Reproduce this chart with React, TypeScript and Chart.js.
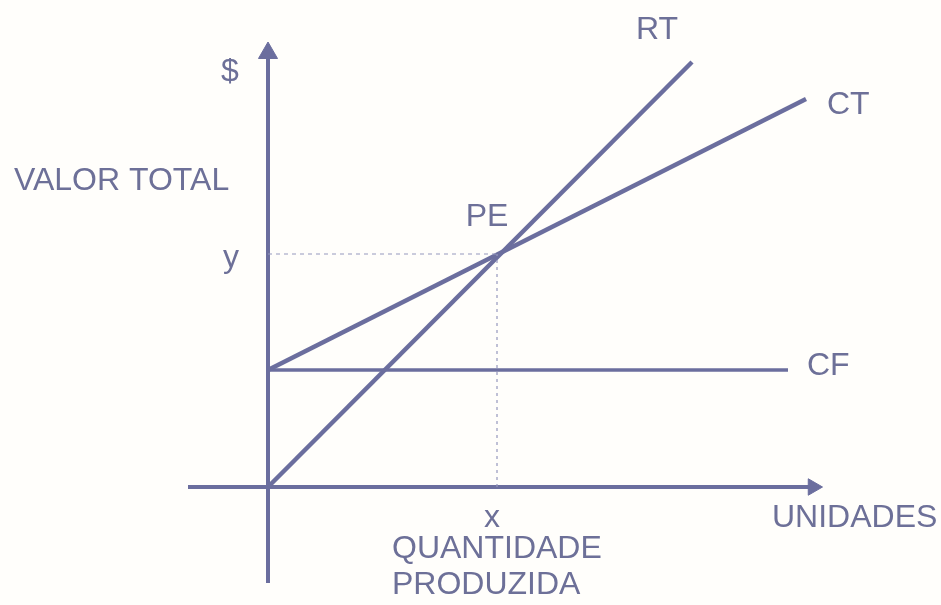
import React, { useEffect, useRef } from "react";
import { Chart, registerables } from "chart.js";

Chart.register(...registerables);

// Data (quantity on x, value in $ on y)
const fixedCostLine = [
  { x: 0, y: 117 },
  { x: 520, y: 117 },
];
const totalCostLine = [
  { x: 0, y: 117 },
  { x: 538, y: 388 },
];
const totalRevenueLine = [
  { x: 0, y: 0 },
  { x: 424, y: 425 },
];
const breakEven = { x: 229, y: 233 };
const xAxisRange = [-80, 545];
const yAxisRange = [-96, 434];

const seriesLabels = ["RT", "CT", "CF", "PE"];
const axisLabels = ["$", "VALOR TOTAL", "y", "x", "UNIDADES", "QUANTIDADE", "PRODUZIDA"];

const LINE = "#6b6e9e";
const TEXT = "#6d7098";
const GUIDE = "#9597bd";

export default function App() {
  const ref = useRef<HTMLCanvasElement | null>(null);

  useEffect(() => {
    const canvas = ref.current;
    if (!canvas) return;

    const labelPlugin = {
      id: "labels",
      beforeDraw(chart: any) {
        const c = chart.ctx;
        c.save();
        c.fillStyle = "#fffefb";
        c.fillRect(0, 0, chart.width, chart.height);
        c.restore();
      },
      afterDatasetsDraw(chart: any) {
        const c = chart.ctx;
        const xs = chart.scales.x;
        const ys = chart.scales.y;
        const px = (v: number) => xs.getPixelForValue(v);
        const py = (v: number) => ys.getPixelForValue(v);
        c.save();
        c.fillStyle = TEXT;
        c.font = "32px 'Liberation Sans', Arial, sans-serif";
        c.textBaseline = "middle";
        const put = (t: string, x: number, y: number, align: CanvasTextAlign) => {
          c.textAlign = align;
          c.fillText(t, x, y);
        };
        // series labels
        put(seriesLabels[0], px(totalRevenueLine[1].x) - 35, py(totalRevenueLine[1].y) - 32, "center");
        put(seriesLabels[1], px(totalCostLine[1].x) + 21, py(totalCostLine[1].y) + 6, "left");
        put(seriesLabels[2], px(fixedCostLine[1].x) + 19, py(fixedCostLine[1].y) - 4, "left");
        put(seriesLabels[3], px(breakEven.x) - 10, py(breakEven.y) - 37, "center");
        // axis labels
        put(axisLabels[0], px(0) - 38, 72, "center");
        put(axisLabels[1], 14, 181, "left");
        put(axisLabels[2], px(0) - 37, py(breakEven.y) + 4, "center");
        put(axisLabels[3], px(breakEven.x) - 5, py(0) + 31, "center");
        put(axisLabels[4], px(xAxisRange[1]) - 41, py(0) + 31, "left");
        put(axisLabels[5], px(breakEven.x) - 105, py(0) + 62, "left");
        put(axisLabels[6], px(breakEven.x) - 105, py(0) + 98, "left");
        c.restore();
      },
    };

    const chart = new Chart(canvas, {
      type: "scatter",
      data: {
        datasets: [
          {
            data: [
              { x: 0, y: breakEven.y },
              { x: breakEven.x, y: breakEven.y },
            ],
            showLine: true,
            borderColor: GUIDE,
            borderWidth: 1.2,
            borderDash: [4, 4],
            pointRadius: 0,
          },
          {
            data: [
              { x: breakEven.x, y: 0 },
              { x: breakEven.x, y: breakEven.y },
            ],
            showLine: true,
            borderColor: GUIDE,
            borderWidth: 1.2,
            borderDash: [3, 4],
            pointRadius: 0,
          },
          {
            data: [
              { x: xAxisRange[0], y: 0 },
              { x: xAxisRange[1], y: 0 },
            ],
            showLine: true,
            borderColor: LINE,
            borderWidth: 4,
            pointRadius: [0, 9.5],
            pointStyle: "triangle",
            rotation: 90,
            pointBackgroundColor: LINE,
            pointBorderColor: LINE,
            pointBorderWidth: 1,
          },
          {
            data: [
              { x: 0, y: yAxisRange[0] },
              { x: 0, y: yAxisRange[1] },
            ],
            showLine: true,
            borderColor: LINE,
            borderWidth: 4,
            pointRadius: [0, 11],
            pointStyle: "triangle",
            rotation: 0,
            pointBackgroundColor: LINE,
            pointBorderColor: LINE,
            pointBorderWidth: 1,
          },
          {
            data: fixedCostLine,
            showLine: true,
            borderColor: LINE,
            borderWidth: 3.5,
            pointRadius: 0,
          },
          {
            data: totalCostLine,
            showLine: true,
            borderColor: LINE,
            borderWidth: 4.5,
            pointRadius: 0,
          },
          {
            data: totalRevenueLine,
            showLine: true,
            borderColor: LINE,
            borderWidth: 4.5,
            pointRadius: 0,
          },
        ],
      },
      options: {
        animation: false,
        responsive: false,
        layout: { padding: 0, autoPadding: false },
        plugins: {
          legend: { display: false },
          tooltip: { enabled: false },
        },
        scales: {
          x: { type: "linear", min: -268, max: 673, display: false },
          y: { type: "linear", min: -118, max: 487, display: false },
        },
      },
      plugins: [labelPlugin],
    } as any);

    return () => chart.destroy();
  }, []);

  return (
    <div style={{ position: "fixed", left: 0, top: 0, width: 941, height: 605, background: "#fffefb" }}>
      <canvas ref={ref} width={941} height={605} style={{ display: "block", width: 941, height: 605 }} />
    </div>
  );
}
